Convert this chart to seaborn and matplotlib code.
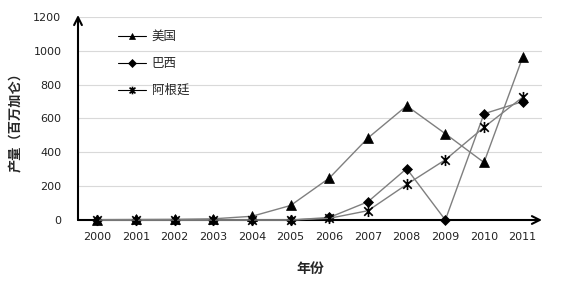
import numpy as np
import pandas as pd
import matplotlib
matplotlib.use("Agg")
import matplotlib.pyplot as plt
from matplotlib.path import Path
import seaborn as sns

years = list(range(2000, 2012))
usa = [2, 3, 4, 7, 22, 86, 248, 485, 675, 510, 340, 962]
brazil = [0, 0, 0, 0, 0, 0, 15, 108, 304, 0, 628, 700]
argentina = [0, 0, 0, 0, 0, 0, 10, 55, 210, 356, 548, 726]
series_names = ["美国", "巴西", "阿根廷"]
xlabel = "年份"
ylabel = "产量（百万加仑）"

sns.set_theme(style="white")
plt.rcParams["font.family"] = ["DejaVu Sans", "Noto Sans CJK SC"]

star = Path([(-1, -1), (1, 1), (-1, 1), (1, -1), (0, -1.3), (0, 1.3)],
            [Path.MOVETO, Path.LINETO, Path.MOVETO, Path.LINETO, Path.MOVETO, Path.LINETO])
markers = ["^", "D", star]
msizes = [7, 5, 8]

fig = plt.figure(figsize=(5.76, 2.86), dpi=100)
ax = fig.add_axes([78 / 576, 1 - 220 / 286, (542 - 78) / 576, (220 - 17) / 286])

for name, vals, mk, ms in zip(series_names, [usa, brazil, argentina], markers, msizes):
    df = pd.DataFrame({"year": years, "value": vals})
    sns.lineplot(data=df, x="year", y="value", ax=ax, color="#7f7f7f", linewidth=1.0,
                 marker=mk, markersize=ms, markerfacecolor="black",
                 markeredgecolor="black", markeredgewidth=1.2 if mk is star else 0.5,
                 label=name, zorder=5, clip_on=False)

ax.set_xlim(1999.5, 2011.5)
ax.set_ylim(0, 1200)
ax.set_xticks(years)
ax.set_xticklabels([str(y) for y in years], fontsize=8, color="#222222")
ax.set_yticks(range(0, 1201, 200))
ax.set_yticklabels([str(v) for v in range(0, 1201, 200)], fontsize=8, color="#222222")
ax.tick_params(axis="both", length=0)
ax.tick_params(axis="x", pad=9)
ax.tick_params(axis="y", pad=12)
ax.yaxis.grid(True, color="#d9d9d9", linewidth=0.8)
ax.xaxis.grid(False)
for s in ax.spines.values():
    s.set_visible(False)

# axes with arrows
ax.annotate("", xy=(1, 0), xycoords="axes fraction", xytext=(0, 0),
            arrowprops=dict(arrowstyle="->", color="black", lw=1.5, shrinkA=0, shrinkB=0,
                            mutation_scale=14), zorder=3)
ax.annotate("", xy=(0, 1.01), xycoords="axes fraction", xytext=(0, 0),
            arrowprops=dict(arrowstyle="->", color="black", lw=1.5, shrinkA=0, shrinkB=0,
                            mutation_scale=14), zorder=3)

ax.set_xlabel(xlabel, fontsize=10, fontweight="bold", family=["Noto Sans CJK SC"], labelpad=14)
ax.set_ylabel(ylabel, fontsize=9.5, fontweight="bold", family=["Noto Sans CJK SC"], labelpad=4)
ax.yaxis.set_label_coords(-0.12, 0.5)

leg = ax.legend(loc="upper left", bbox_to_anchor=(118 / 576, 1 - 30 / 286),
                bbox_transform=fig.transFigure, frameon=False,
                handlelength=2.2, handletextpad=0.5, labelspacing=1.12,
                borderpad=0, borderaxespad=0, prop={"family": ["Noto Sans CJK SC"], "size": 9})
for line, ms in zip(leg.get_lines(), [5, 4, 5.5]):
    line.set_color("black")
    line.set_linewidth(0.8)
    line.set_markersize(ms)

fig.savefig("out.png", dpi=100)
